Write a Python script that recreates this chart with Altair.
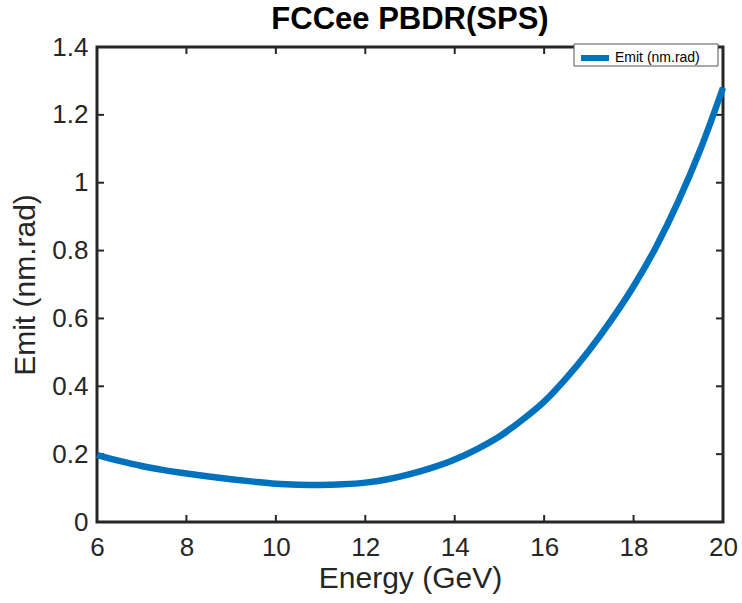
import altair as alt
import pandas as pd

energy = [6, 6.5, 7, 7.5, 8, 8.5, 9, 9.5, 10, 10.5, 11, 11.5, 12, 12.5, 13, 13.5,
          14, 14.5, 15, 15.5, 16, 16.5, 17, 17.5, 18, 18.5, 19, 19.5, 20]
emit = [0.197, 0.180, 0.165, 0.153, 0.143, 0.134, 0.126, 0.119, 0.113, 0.110, 0.109,
        0.111, 0.116, 0.126, 0.141, 0.160, 0.184, 0.215, 0.252, 0.300, 0.355, 0.425,
        0.505, 0.595, 0.695, 0.810, 0.945, 1.100, 1.280]
x_ticks = [6, 8, 10, 12, 14, 16, 18, 20]
y_ticks = [0, 0.2, 0.4, 0.6, 0.8, 1.0, 1.2, 1.4]
series_name = "Emit (nm.rad)"

W, H = 626, 475
FONT = "Liberation Sans"
DARK = "#262626"

df = pd.DataFrame({"Energy": energy, "Emit": emit, "series": series_name})
xt = pd.DataFrame({"t": x_ticks})
yt = pd.DataFrame({"t": y_ticks})

xscale = alt.Scale(domain=[6, 20], nice=False, zero=False)
yscale = alt.Scale(domain=[0, 1.4], nice=False)

line = alt.Chart(df).mark_line(strokeWidth=6.5, interpolate="monotone").encode(
    x=alt.X("Energy:Q", scale=xscale,
            axis=alt.Axis(title="Energy (GeV)", values=x_ticks, tickSize=0, domain=False,
                          grid=False, labelPadding=12, titlePadding=3, format="~g",
                          labelFlush=False)),
    y=alt.Y("Emit:Q", scale=yscale,
            axis=alt.Axis(title="Emit (nm.rad)", values=y_ticks, tickSize=0, domain=False,
                          grid=False, labelPadding=9, titlePadding=11, format="~g",
                          labelFlush=False)),
    color=alt.Color("series:N", scale=alt.Scale(range=["#0072BD"]),
                    legend=alt.Legend(title=None, orient="none", legendX=478, legendY=-9,
                                      symbolType="stroke", symbolStrokeWidth=6,
                                      symbolSize=784, labelFontSize=14, labelFont=FONT,
                                      labelColor="#000000", padding=3,
                                      labelOffset=3)),
)

# legend frame (white box with grey border, covering the axes frame like the reference)
legend_box = alt.Chart(pd.DataFrame({"a": [0]})).mark_rect(
    fill="white", stroke="#555555", strokeWidth=1).encode(
    x=alt.value(477), x2=alt.value(621), y=alt.value(-3), y2=alt.value(19))

tick_style = dict(color=DARK, strokeWidth=2)
bottom = alt.Chart(xt).mark_rule(**tick_style).encode(
    x=alt.X("t:Q", scale=xscale), y=alt.value(H), y2=alt.value(H - 7))
top = alt.Chart(xt).mark_rule(**tick_style).encode(
    x=alt.X("t:Q", scale=xscale), y=alt.value(0), y2=alt.value(7))
left = alt.Chart(yt).mark_rule(**tick_style).encode(
    y=alt.Y("t:Q", scale=yscale), x=alt.value(0), x2=alt.value(7))
right = alt.Chart(yt).mark_rule(**tick_style).encode(
    y=alt.Y("t:Q", scale=yscale), x=alt.value(W), x2=alt.value(W - 7))

chart = alt.layer(bottom, top, left, right, line, legend_box).properties(
    width=W, height=H,
    background="white",
    title=alt.TitleParams("FCCee PBDR(SPS)", fontSize=31, font=FONT, fontWeight="bold",
                          color="#000000", anchor="middle", offset=8, dy=10, frame="group"),
    padding={"left": 97, "top": 47, "right": 19, "bottom": 81},
    autosize=alt.AutoSizeParams(type="none"),
).configure_view(stroke=DARK, strokeWidth=3).configure_axis(
    labelFont=FONT, labelFontSize=26, labelColor=DARK,
    titleFont=FONT, titleFontSize=30, titleColor=DARK, titleFontWeight="normal",
)

chart.save("out.html", embed_options={"renderer": "svg", "actions": False})
